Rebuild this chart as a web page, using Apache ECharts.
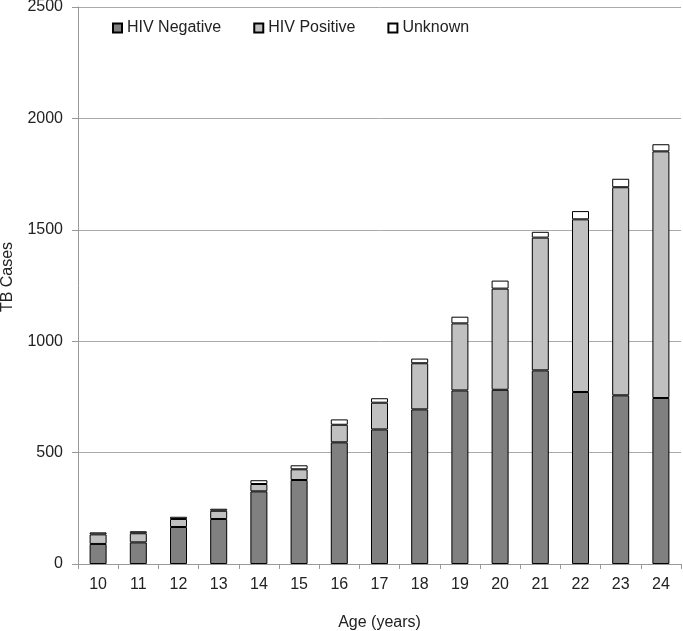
<!DOCTYPE html>
<html><head><meta charset="utf-8">
<script src="https://cdn.jsdelivr.net/npm/echarts@6/dist/echarts.min.js"></script>
<style>html,body{margin:0;padding:0;background:#fff}#c{width:683px;height:631px}</style>
</head><body><div id="c"></div>
<script>
const ages = ['10','11','12','13','14','15','16','17','18','19','20','21','22','23','24'];
const hivNegative = [90, 97, 166, 202, 326, 377, 546, 604, 694, 779, 782, 869, 772, 757, 745];
const hivPositive = [43, 41, 36, 37, 33, 48, 79, 120, 207, 301, 454, 596, 775, 934, 1107];
const unknown = [9, 9, 10, 9, 17, 18, 24, 20, 21, 30, 36, 26, 37, 38, 32];
const yTicks = [0, 500, 1000, 1500, 2000, 2500];
const yTitle = 'TB Cases';
const xTitle = 'Age (years)';

const font = 'Liberation Sans, Arial, sans-serif';
const chart = echarts.init(document.getElementById('c'), null, {renderer: 'canvas'});
const mk = (name, data, color) => ({
  name, type: 'bar', stack: 'total', data, barWidth: 17,
  itemStyle: {color, borderColor: '#000', borderWidth: 1},
  emphasis: {disabled: true}
});
chart.setOption({
  animation: false,
  backgroundColor: '#fff',
  textStyle: {fontFamily: font},
  grid: {left: 78, right: 2, top: 7, bottom: 67, containLabel: false, outerBoundsMode: 'none'},
  legend: {
    top: 15, left: 107, itemWidth: 9, itemHeight: 9, itemGap: 32, icon: 'rect',
    textStyle: {fontSize: 16, color: '#222', fontFamily: font},
    data: ['HIV Negative', 'HIV Positive', 'Unknown']
  },
  graphic: [{
    type: 'text', x: 8, y: 277, rotation: Math.PI / 2,
    style: {text: yTitle, font: '16px ' + font, fill: '#222', align: 'center', verticalAlign: 'middle'}
  }],
  xAxis: {
    type: 'category', data: ages,
    name: xTitle, nameLocation: 'middle', nameGap: 51,
    nameTextStyle: {fontSize: 16, color: '#222'},
    axisLine: {lineStyle: {color: '#999'}},
    axisTick: {show: true, length: 5, lineStyle: {color: '#999'}},
    axisLabel: {fontSize: 16, color: '#222', margin: 13}
  },
  yAxis: {
    type: 'value', min: 0, max: 2500, interval: 500,
    axisLine: {show: true, lineStyle: {color: '#999'}},
    axisTick: {show: true, length: 6, lineStyle: {color: '#999'}},
    axisLabel: {fontSize: 16, color: '#222', margin: 15,
      formatter: v => yTicks.includes(v) ? String(v) : ''},
    splitLine: {lineStyle: {color: '#aaa'}}
  },
  series: [
    mk('HIV Negative', hivNegative, '#808080'),
    mk('HIV Positive', hivPositive, '#c0c0c0'),
    mk('Unknown', unknown, '#ffffff')
  ]
});
</script></body></html>
